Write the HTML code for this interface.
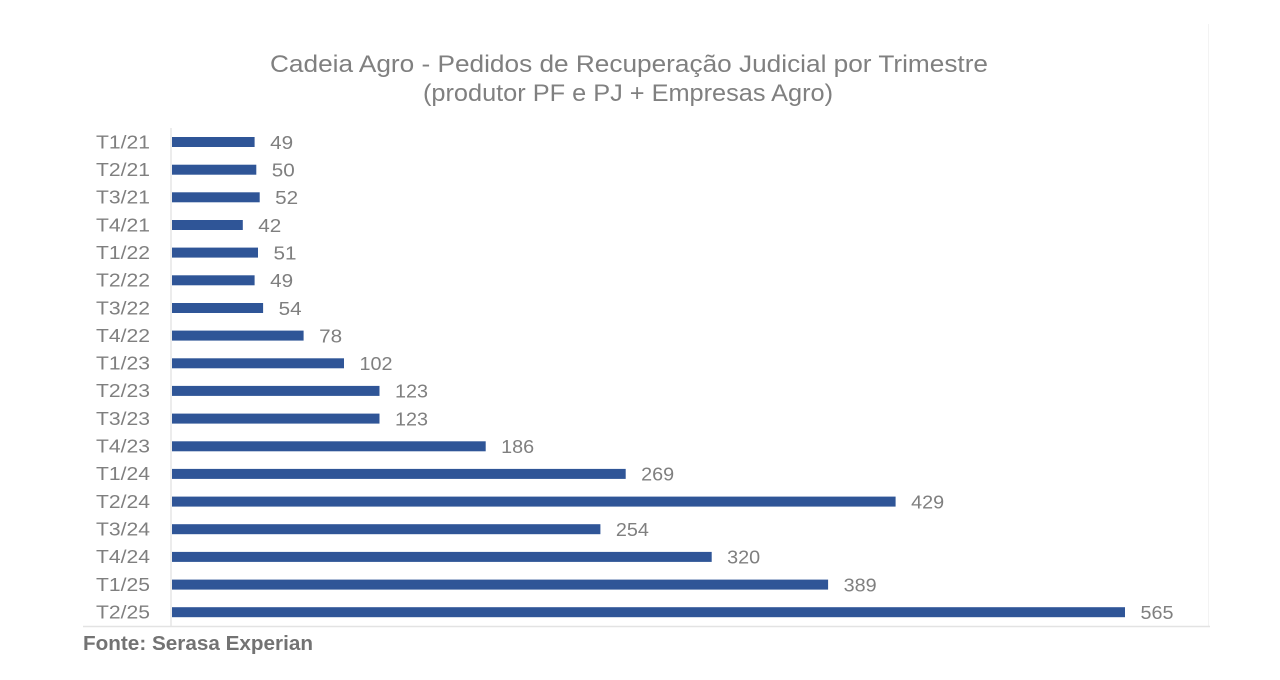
<!DOCTYPE html>
<html>
<head>
<meta charset="utf-8">
<style>
  html, body { margin:0; padding:0; background:#ffffff; }
  body { width:1280px; height:680px; overflow:hidden; }
  svg { display:block; }
  text { font-family: "Liberation Sans", "DejaVu Sans", sans-serif; }
</style>
</head>
<body>
<svg width="1280" height="680" viewBox="0 0 1280 680" xmlns="http://www.w3.org/2000/svg">
  <rect x="0" y="0" width="1280" height="680" fill="#ffffff"/>
  <!-- faint right border -->
  <line x1="1208.5" y1="24" x2="1208.5" y2="626" stroke="#f3f3f3" stroke-width="1"/>

  <!-- Title -->
  <text x="270" y="72" font-size="24" fill="#808080" textLength="718" lengthAdjust="spacingAndGlyphs">Cadeia Agro - Pedidos de Recuperação Judicial por Trimestre</text>
  <text x="423" y="101" font-size="24" fill="#808080" textLength="410" lengthAdjust="spacingAndGlyphs">(produtor PF e PJ + Empresas Agro)</text>

  <!-- axis lines -->
  <line x1="171" y1="128" x2="171" y2="626" stroke="#d9d9d9" stroke-width="1"/>
  <line x1="83" y1="626.5" x2="1210" y2="626.5" stroke="#e3e3e3" stroke-width="1.5"/>

  <!-- Source -->
  <text x="83" y="650" font-size="20.5" font-weight="bold" fill="#737373" textLength="230" lengthAdjust="spacingAndGlyphs">Fonte: Serasa Experian</text>

  <!-- Rows -->
  <g fill="#2F5597">
    <rect x="172" y="137.0" width="82.6" height="10"/>
    <rect x="172" y="164.7" width="84.3" height="10"/>
    <rect x="172" y="192.3" width="87.7" height="10"/>
    <rect x="172" y="220.0" width="70.8" height="10"/>
    <rect x="172" y="247.6" width="86.0" height="10"/>
    <rect x="172" y="275.3" width="82.6" height="10"/>
    <rect x="172" y="303.0" width="91.1" height="10"/>
    <rect x="172" y="330.6" width="131.6" height="10"/>
    <rect x="172" y="358.3" width="172.0" height="10"/>
    <rect x="172" y="385.9" width="207.5" height="10"/>
    <rect x="172" y="413.6" width="207.5" height="10"/>
    <rect x="172" y="441.3" width="313.7" height="10"/>
    <rect x="172" y="468.9" width="453.7" height="10"/>
    <rect x="172" y="496.6" width="723.6" height="10"/>
    <rect x="172" y="524.2" width="428.4" height="10"/>
    <rect x="172" y="551.9" width="539.7" height="10"/>
    <rect x="172" y="579.6" width="656.1" height="10"/>
    <rect x="172" y="607.2" width="953.0" height="10"/>
  </g>

  <g font-size="18.5" fill="#7f7f7f">
    <text x="96" y="148.3" textLength="54" lengthAdjust="spacingAndGlyphs">T1/21</text>
    <text x="96" y="176.0" textLength="54" lengthAdjust="spacingAndGlyphs">T2/21</text>
    <text x="96" y="203.6" textLength="54" lengthAdjust="spacingAndGlyphs">T3/21</text>
    <text x="96" y="231.3" textLength="54" lengthAdjust="spacingAndGlyphs">T4/21</text>
    <text x="96" y="258.9" textLength="54" lengthAdjust="spacingAndGlyphs">T1/22</text>
    <text x="96" y="286.6" textLength="54" lengthAdjust="spacingAndGlyphs">T2/22</text>
    <text x="96" y="314.3" textLength="54" lengthAdjust="spacingAndGlyphs">T3/22</text>
    <text x="96" y="341.9" textLength="54" lengthAdjust="spacingAndGlyphs">T4/22</text>
    <text x="96" y="369.6" textLength="54" lengthAdjust="spacingAndGlyphs">T1/23</text>
    <text x="96" y="397.2" textLength="54" lengthAdjust="spacingAndGlyphs">T2/23</text>
    <text x="96" y="424.9" textLength="54" lengthAdjust="spacingAndGlyphs">T3/23</text>
    <text x="96" y="452.6" textLength="54" lengthAdjust="spacingAndGlyphs">T4/23</text>
    <text x="96" y="480.2" textLength="54" lengthAdjust="spacingAndGlyphs">T1/24</text>
    <text x="96" y="507.9" textLength="54" lengthAdjust="spacingAndGlyphs">T2/24</text>
    <text x="96" y="535.5" textLength="54" lengthAdjust="spacingAndGlyphs">T3/24</text>
    <text x="96" y="563.2" textLength="54" lengthAdjust="spacingAndGlyphs">T4/24</text>
    <text x="96" y="590.9" textLength="54" lengthAdjust="spacingAndGlyphs">T1/25</text>
    <text x="96" y="618.5" textLength="54" lengthAdjust="spacingAndGlyphs">T2/25</text>
  </g>

  <g font-size="18.5" fill="#7f7f7f">
    <text x="270.1" y="148.8" textLength="23" lengthAdjust="spacingAndGlyphs">49</text>
    <text x="271.8" y="176.5" textLength="23" lengthAdjust="spacingAndGlyphs">50</text>
    <text x="275.2" y="204.1" textLength="23" lengthAdjust="spacingAndGlyphs">52</text>
    <text x="258.3" y="231.8" textLength="23" lengthAdjust="spacingAndGlyphs">42</text>
    <text x="273.5" y="259.4" textLength="23" lengthAdjust="spacingAndGlyphs">51</text>
    <text x="270.1" y="287.1" textLength="23" lengthAdjust="spacingAndGlyphs">49</text>
    <text x="278.6" y="314.8" textLength="23" lengthAdjust="spacingAndGlyphs">54</text>
    <text x="319.1" y="342.4" textLength="23" lengthAdjust="spacingAndGlyphs">78</text>
    <text x="359.5" y="370.1" textLength="33" lengthAdjust="spacingAndGlyphs">102</text>
    <text x="395.0" y="397.7" textLength="33" lengthAdjust="spacingAndGlyphs">123</text>
    <text x="395.0" y="425.4" textLength="33" lengthAdjust="spacingAndGlyphs">123</text>
    <text x="501.2" y="453.1" textLength="33" lengthAdjust="spacingAndGlyphs">186</text>
    <text x="641.2" y="480.7" textLength="33" lengthAdjust="spacingAndGlyphs">269</text>
    <text x="911.1" y="508.4" textLength="33" lengthAdjust="spacingAndGlyphs">429</text>
    <text x="615.9" y="536.0" textLength="33" lengthAdjust="spacingAndGlyphs">254</text>
    <text x="727.2" y="563.7" textLength="33" lengthAdjust="spacingAndGlyphs">320</text>
    <text x="843.6" y="591.4" textLength="33" lengthAdjust="spacingAndGlyphs">389</text>
    <text x="1140.5" y="619.0" textLength="33" lengthAdjust="spacingAndGlyphs">565</text>
  </g>
</svg>
</body>
</html>
